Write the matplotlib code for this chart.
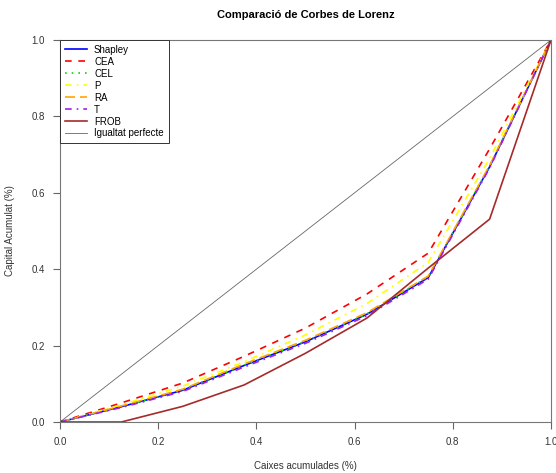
import matplotlib
matplotlib.use("Agg")
from matplotlib import pyplot as plt

# cumulative share of boxes (8 boxes)
caixes = [0, 0.125, 0.25, 0.375, 0.5, 0.625, 0.75, 0.875, 1.0]

shapley = [0, 0.040, 0.083, 0.148, 0.210, 0.282, 0.378, 0.668, 1.0]
cea = [0, 0.050, 0.102, 0.172, 0.246, 0.335, 0.442, 0.715, 1.0]
cel = [0, 0.040, 0.084, 0.149, 0.211, 0.283, 0.380, 0.670, 1.0]
p = [0, 0.045, 0.094, 0.158, 0.228, 0.310, 0.418, 0.690, 1.0]
ra = [0, 0.042, 0.086, 0.152, 0.214, 0.286, 0.382, 0.672, 1.0]
t = [0, 0.038, 0.080, 0.144, 0.206, 0.278, 0.374, 0.665, 1.0]
frob = [0, 0.0, 0.041, 0.097, 0.180, 0.272, 0.403, 0.531, 1.0]

plt.rcParams['font.family'] = ['Liberation Sans', 'DejaVu Sans']

fig = plt.figure(figsize=(5.56, 4.73), dpi=100)
ax = fig.add_axes([60 / 556, 51 / 473, 491 / 556, 382 / 473])

ax.plot(caixes, shapley, color='blue', lw=1.2, label='Shapley')
ax.plot(caixes, cea, color='red', lw=1.2, dashes=(4, 4), label='CEA')
ax.plot(caixes, cel, color='#00dd00', lw=1.2, dashes=(1, 3), label='CEL')
ax.plot(caixes, p, color='yellow', lw=1.2, dashes=(4, 3, 1, 3), label='P')
ax.plot(caixes, ra, color='orange', lw=1.2, dashes=(6, 3), label='RA')
ax.plot(caixes, t, color='#a020f0', lw=1.2, dashes=(4, 3, 1, 3), label='T')
ax.plot(caixes, frob, color='#a52a2a', lw=1.2, label='FROB')
ax.plot([0, 1], [0, 1], color='black', lw=0.6, alpha=0.6, label='Igualtat perfecte')

ax.set_xlim(0, 1)
ax.set_ylim(0, 1)
ticks = [0, 0.2, 0.4, 0.6, 0.8, 1.0]
ax.set_xticks(ticks)
ax.set_yticks(ticks)
ax.set_xticklabels(['0.0', '0.2', '0.4', '0.6', '0.8', '1.0'])
ax.set_yticklabels(['0.0', '0.2', '0.4', '0.6', '0.8', '1.0'])
ax.tick_params(direction='out', length=5, width=0.8, color='#666666',
               labelsize=7, labelcolor='#333333', pad=6)
for s in ax.spines.values():
    s.set_color('#777777')
    s.set_linewidth(0.8)

ax.set_xlabel('Caixes acumulades (%)', fontsize=7, color='#333333', labelpad=10)
ax.set_ylabel('Capital Acumulat (%)', fontsize=7, color='#333333', labelpad=12)
ax.set_title('Comparació de Corbes de Lorenz', fontsize=8, fontweight='bold', pad=16)

leg = ax.legend(loc='upper left', borderaxespad=0, fontsize=7, fancybox=False,
                framealpha=1, edgecolor='#333333', handlelength=2.3,
                labelspacing=0.2, borderpad=0.5, handletextpad=0.7)
leg.get_frame().set_linewidth(0.7)

fig.savefig('out.png', dpi=100)
